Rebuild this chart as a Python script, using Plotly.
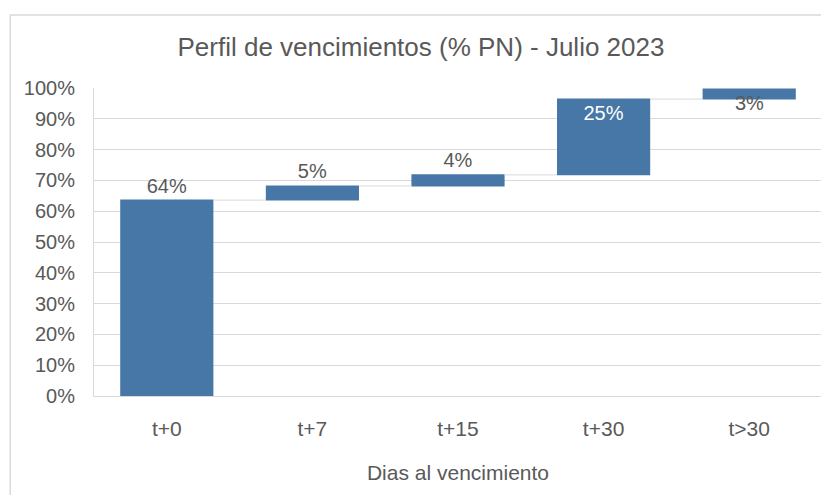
import plotly.graph_objects as go

categories = ["t+0", "t+7", "t+15", "t+30", "t>30"]
values = [63.6, 4.6, 3.6, 24.6, 3.3]
y_ticks = [0, 10, 20, 30, 40, 50, 60, 70, 80, 90, 100]
y_ticklabels = [f"{t}%" for t in y_ticks]

gray_text = "#595959"
bar_color = "#4677A6"
grid_color = "#D9D9D9"
font_family = "Liberation Sans"

labels = [f"{v:.0f}%" for v in values]
# last label sits under its bar, handled with an annotation
bar_text = labels[:-1] + [""]
text_pos = ["outside", "outside", "outside", "inside", "inside"]

fig = go.Figure()

fig.add_trace(
    go.Waterfall(
        x=categories, y=values, measure=["relative"] * len(values),
        text=bar_text, textposition=text_pos, insidetextanchor="end",
        textfont=dict(size=20, color=gray_text, family=font_family),
        insidetextfont=dict(size=20, color="white", family=font_family),
        outsidetextfont=dict(size=20, color=gray_text, family=font_family),
        increasing=dict(marker=dict(color=bar_color)),
        decreasing=dict(marker=dict(color=bar_color)),
        connector=dict(line=dict(color=grid_color, width=1)),
        cliponaxis=False, showlegend=False,
    )
)

# label of the last step, just below the bar
last_base = sum(values[:-1])
fig.add_annotation(x=categories[-1], y=last_base, text=labels[-1], showarrow=False,
                   yanchor="top", yshift=9,
                   font=dict(size=20, color=gray_text, family=font_family))

# chart border (page body adds an 8px offset)
fig.add_shape(type="rect", xref="paper", yref="paper", x0=-0.115, x1=1.03, y0=-0.5, y1=1.237,
              line=dict(color="#D9D9D9", width=1.5), layer="below")

fig.update_layout(
    width=821, height=487,
    margin=dict(l=86, r=7, t=80, b=99),
    paper_bgcolor="white", plot_bgcolor="white",
    font=dict(family=font_family, color=gray_text, size=18),
    title=dict(text="Perfil de vencimientos (% PN) - Julio 2023", x=0.503, xref="container",
               xanchor="center", y=0.92, yanchor="middle", font=dict(size=26, color=gray_text)),
    waterfallgap=0.36,
)

fig.update_yaxes(range=[0, 100], tickvals=y_ticks, ticktext=y_ticklabels,
                 showgrid=True, gridcolor=grid_color, gridwidth=1,
                 showline=True, linecolor=grid_color, linewidth=1,
                 zeroline=False, ticks="", tickfont=dict(size=20), ticklabelstandoff=14)
fig.update_xaxes(title=dict(text="Dias al vencimiento", font=dict(size=21), standoff=26),
                 showline=True, linecolor=grid_color, ticks="", tickfont=dict(size=21),
                 ticklabelstandoff=14)

fig.write_html("out.html")
